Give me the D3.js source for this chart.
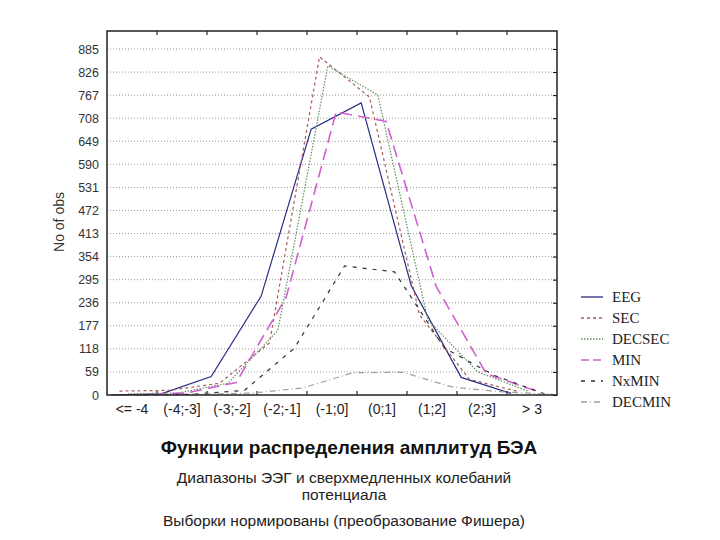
<!DOCTYPE html>
<html>
<head lang="ru">
    <meta charset="UTF-8">
    <title></title>
    <script src="https://cdn.jsdelivr.net/npm/d3@7"></script>
    <style>
        body{margin:0;background:#fff;}
        text{font-family:Arial,"Liberation Sans",sans-serif;}
        .grid{stroke:#999;stroke-width:1px;stroke-dasharray:1,2;}
        .legend text{font-family:"Liberation Serif","DejaVu Serif",serif;font-size:15px;fill:#222;}
    </style>
</head>
<body>
<script>
    var categories=["<= -4","(-4;-3]","(-3;-2]","(-2;-1]","(-1;0]","(0;1]","(1;2]","(2;3]","> 3"];
    var yTicks=[0,59,118,177,236,295,354,413,472,531,590,649,708,767,826,885];
    var seriesNames=["EEG","SEC","DECSEC","MIN","NxMIN","DECMIN"];
    var eeg=[0,3,47,253,680,747,280,45,4];
    var sec=[10,12,30,133,865,762,205,40,8];
    var decsec=[3,5,30,165,842,767,192,59,10];
    var min=[0,5,32,250,724,700,278,55,10];
    var nxmin=[0,2,12,120,330,315,120,50,3];
    var decmin=[0,2,5,18,57,58,20,8,2];
    var seriesValues=[eeg,sec,decsec,min,nxmin,decmin];
    var seriesColors=["#2b2b85","#a85a5a","#5f8f5f","#d060d0","#333333","#a0a0a0"];
    var seriesDash=["none","3,3","1.5,1.5","12,6","4,6","6,3,1,3"];

    var W=720,H=540;
    var pLeft=107,pRight=557,pTop=31,pBottom=395;

    var svg=d3.select("body").append("svg")
            .attr("width",W).attr("height",H);

    var x=d3.scaleBand().domain(categories).range([pLeft,pRight]);
    var xs=d3.scaleBand().domain(d3.range(seriesNames.length)).range([0,x.bandwidth()]);
    var y=d3.scaleLinear().domain([0,885]).range([pBottom,49]);

    //网格
    svg.selectAll("line.grid").data(yTicks.slice(1)).enter()
            .append("line").attr("class","grid")
            .attr("x1",pLeft).attr("x2",pRight)
            .attr("y1",function(d){return y(d);}).attr("y2",function(d){return y(d);});

    //坐标轴
    var yAxis=svg.append("g").attr("transform","translate("+pLeft+",0)")
            .call(d3.axisLeft(y).tickValues(yTicks).tickSize(0).tickPadding(8));
    yAxis.select(".domain").remove();
    yAxis.selectAll("text").style("font-size","12.5px").style("fill","#333");
    var yAxisR=svg.append("g").attr("transform","translate("+pRight+",0)")
            .call(d3.axisLeft(y).tickValues(yTicks).tickSize(4).tickFormat(""));
    yAxisR.select(".domain").remove();

    var bounds=categories.slice(1).map(function(c){return x(c);});
    svg.selectAll("line.tb").data(bounds).enter().append("line")
            .attr("x1",function(d){return d;}).attr("x2",function(d){return d;})
            .attr("y1",pTop).attr("y2",pTop+4).attr("stroke","#000");
    svg.selectAll("line.bb").data(bounds).enter().append("line")
            .attr("x1",function(d){return d;}).attr("x2",function(d){return d;})
            .attr("y1",pBottom).attr("y2",pBottom-4).attr("stroke","#000");

    var xAxis=svg.append("g").attr("transform","translate(0,"+pBottom+")")
            .call(d3.axisBottom(x).tickSize(0).tickPadding(9));
    xAxis.select(".domain").remove();
    xAxis.selectAll("text").style("font-size","14px").style("fill","#222");

    //线
    seriesValues.forEach(function(vals,si){
        var line=d3.line()
                .x(function(d,i){return x(categories[i])+xs(si)+xs.bandwidth()/2;})
                .y(function(d){return y(d);});
        svg.append("path").datum(vals)
                .attr("d",line)
                .attr("fill","none")
                .attr("stroke",seriesColors[si])
                .attr("stroke-width",si==3?1.6:1.2)
                .attr("stroke-dasharray",seriesDash[si]);
    });

    svg.append("rect").attr("x",pLeft).attr("y",pTop)
            .attr("width",pRight-pLeft).attr("height",pBottom-pTop)
            .attr("fill","none").attr("stroke","#222").attr("stroke-width",1.5);

    svg.append("text").attr("transform","translate(64,"+((pTop+pBottom)/2+9)+") rotate(-90)")
            .attr("text-anchor","middle").style("font-size","14px").style("fill","#333")
            .text("No of obs");

    //图例
    var lg=svg.append("g").attr("class","legend");
    seriesNames.forEach(function(n,i){
        var yy=297+i*21;
        lg.append("line").attr("x1",581).attr("x2",603).attr("y1",yy).attr("y2",yy)
                .attr("stroke",seriesColors[i]).attr("stroke-width",1.3)
                .attr("stroke-dasharray",i==3?"8,4":seriesDash[i]);
        lg.append("text").attr("x",612).attr("y",yy+5).text(n);
    });

    //标题
    svg.append("text").attr("x",349).attr("y",454).attr("text-anchor","middle")
            .style("font-size","19px").style("font-weight","bold").style("fill","#111")
            .text("Функции распределения амплитуд БЭА");
    var sub=["Диапазоны ЭЭГ и сверхмедленных колебаний","потенциала","Выборки нормированы (преобразование Фишера)"];
    var subY=[483,500,526];
    sub.forEach(function(s,i){
        svg.append("text").attr("x",344).attr("y",subY[i]).attr("text-anchor","middle")
                .style("font-size","15.5px").style("fill","#222").text(s);
    });
</script>
</body>
</html>
